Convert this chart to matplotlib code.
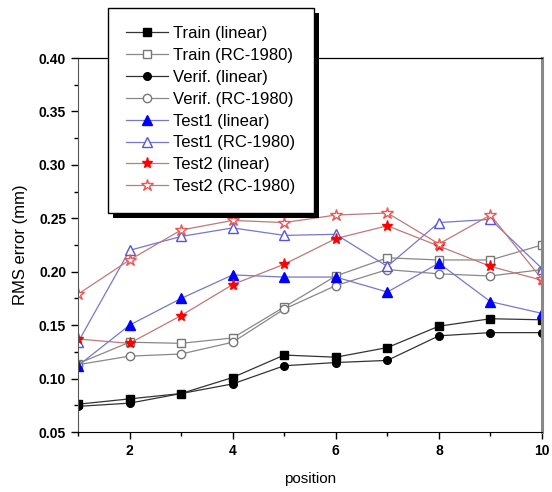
import matplotlib
matplotlib.use("Agg")
import matplotlib.pyplot as plt
from matplotlib.patches import Rectangle
from matplotlib.ticker import MultipleLocator

plt.rcParams['font.family'] = ['Liberation Sans', 'DejaVu Sans']

position = [1, 2, 3, 4, 5, 6, 7, 8, 9, 10]
train_linear = [0.076, 0.081, 0.086, 0.101, 0.122, 0.120, 0.129, 0.149, 0.156, 0.155]
train_rc = [0.114, 0.134, 0.133, 0.138, 0.167, 0.196, 0.213, 0.211, 0.211, 0.225]
verif_linear = [0.074, 0.077, 0.086, 0.095, 0.112, 0.115, 0.117, 0.140, 0.143, 0.143]
verif_rc = [0.113, 0.121, 0.123, 0.134, 0.165, 0.187, 0.202, 0.198, 0.196, 0.202]
test1_linear = [0.112, 0.150, 0.175, 0.197, 0.195, 0.195, 0.181, 0.208, 0.172, 0.161]
test1_rc = [0.134, 0.220, 0.233, 0.241, 0.234, 0.235, 0.205, 0.246, 0.249, 0.203]
test2_linear = [0.137, 0.133, 0.159, 0.188, 0.207, 0.231, 0.243, 0.224, 0.205, 0.192]
test2_rc = [0.179, 0.211, 0.239, 0.248, 0.246, 0.253, 0.255, 0.226, 0.253, 0.193]

labels = ["Train (linear)", "Train (RC-1980)", "Verif. (linear)", "Verif. (RC-1980)",
          "Test1 (linear)", "Test1 (RC-1980)", "Test2 (linear)", "Test2 (RC-1980)"]

fig = plt.figure(figsize=(5.52, 4.92), dpi=100)
ax = fig.add_axes([78/552, 1-432/492, (542-78)/552, (432-58)/492])

lw = 0.9
ax.plot(position, train_linear, color='#333333', lw=lw, marker='s', ms=5.5,
        mfc='black', mec='black', label=labels[0])
ax.plot(position, train_rc, color='#888888', lw=lw, marker='s', ms=5.5,
        mfc='white', mec='#777777', label=labels[1])
ax.plot(position, verif_linear, color='#333333', lw=lw, marker='o', ms=5.5,
        mfc='black', mec='black', label=labels[2])
ax.plot(position, verif_rc, color='#888888', lw=lw, marker='o', ms=6,
        mfc='white', mec='#777777', label=labels[3])
ax.plot(position, test1_linear, color='#7777cc', lw=lw, marker='^', ms=7,
        mfc='#0000ff', mec='#0000ff', label=labels[4])
ax.plot(position, test1_rc, color='#7777cc', lw=lw, marker='^', ms=7.5,
        mfc='white', mec='#5555dd', label=labels[5])
ax.plot(position, test2_linear, color='#c07878', lw=lw, marker='*', ms=8,
        mfc='#ff0000', mec='#ff0000', label=labels[6])
ax.plot(position, test2_rc, color='#c07878', lw=lw, marker='*', ms=9,
        mfc='white', mec='#ee5555', label=labels[7])

ax.set_xlim(1, 10)
ax.set_ylim(0.05, 0.40)
ax.xaxis.set_major_locator(MultipleLocator(2))
ax.xaxis.set_minor_locator(MultipleLocator(1))
ax.yaxis.set_major_locator(MultipleLocator(0.05))
ax.yaxis.set_minor_locator(MultipleLocator(0.025))
ax.tick_params(which='both', direction='out', width=1)
ax.tick_params(which='major', length=5, labelsize=10)
ax.tick_params(which='minor', length=3)
for lab in ax.get_xticklabels() + ax.get_yticklabels():
    lab.set_fontweight('bold')
ax.yaxis.set_major_formatter(matplotlib.ticker.FormatStrFormatter('%.2f'))

ax.set_xlabel('position', fontsize=11, labelpad=10)
ax.set_ylabel('RMS error (mm)', fontsize=12, labelpad=8)

ax.spines['right'].set_color('#888888')
ax.spines['right'].set_linewidth(2.2)
ax.spines['left'].set_color('#555555')
ax.spines['top'].set_linewidth(0.9)

leg = ax.legend(loc='upper left', bbox_to_anchor=(108/552, 1-8/492),
                bbox_transform=fig.transFigure, borderaxespad=0,
                fancybox=False, edgecolor='black', framealpha=1,
                fontsize=12, handlelength=2.5, labelspacing=0.41,
                handletextpad=0.3, borderpad=1.1)
leg.get_frame().set_linewidth(1.0)
leg.set_zorder(10)

fig.canvas.draw()
bb = leg.get_window_extent()
off = 5
shadow = Rectangle((bb.x0 + off, bb.y0 - off), bb.width, bb.height,
                   transform=None, facecolor='black', edgecolor='none',
                   zorder=9, clip_on=False)
ax.add_patch(shadow)

fig.savefig('out.png', dpi=100)
